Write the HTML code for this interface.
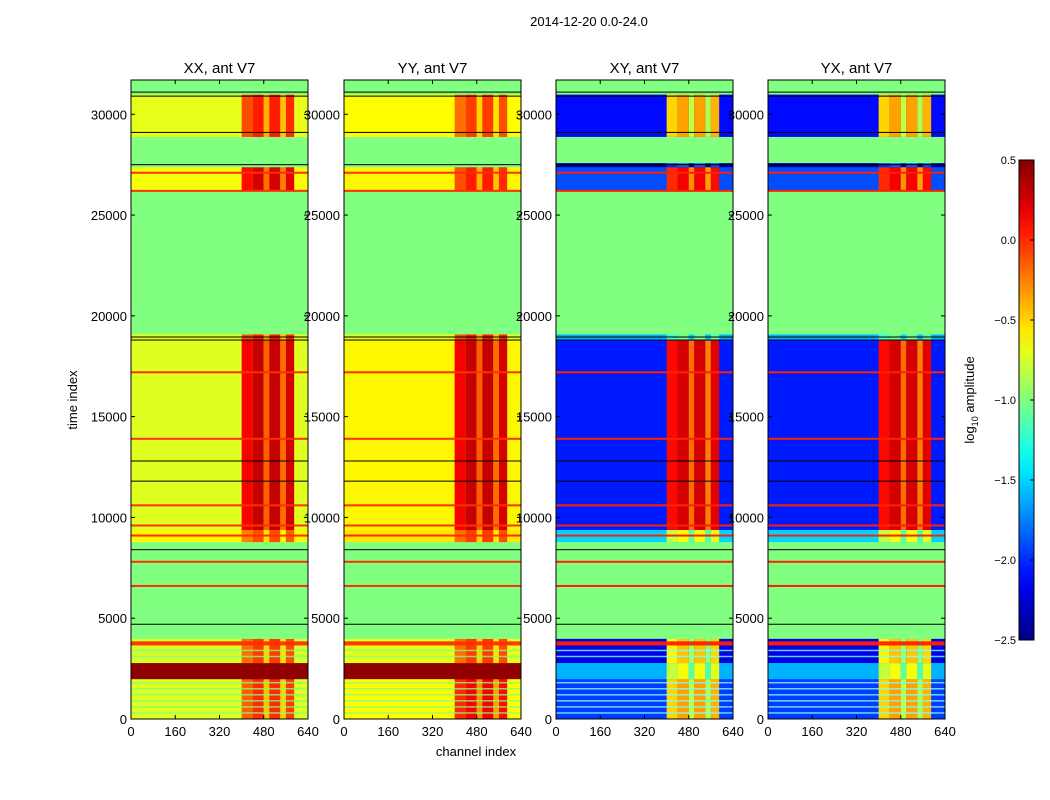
<!DOCTYPE html>
<html><head><meta charset="utf-8">
<style>
body{margin:0;background:#fff;}
svg{display:block;font-family:"Liberation Sans","DejaVu Sans",sans-serif;}
</style></head>
<body>
<svg id="fig" width="1050" height="800" viewBox="0 0 1050 800">
<rect width="1050" height="800" fill="#fff"/>
<text x="589" y="26" text-anchor="middle" font-size="13">2014-12-20 0.0-24.0</text>
<text x="476" y="756" text-anchor="middle" font-size="13">channel index</text>
<text transform="translate(77,400) rotate(-90)" text-anchor="middle" font-size="13">time index</text>
<g id="panels"></g>
<g id="cbar"></g>
</svg>
<script>
// ---- data ----
const panelTitles = ["XX, ant V7","YY, ant V7","XY, ant V7","YX, ant V7"];
const xTicks = [0,160,320,480,640];
const yTicks = [0,5000,10000,15000,20000,25000,30000];
const cbarTicks = [0.5,0.0,-0.5,-1.0,-1.5,-2.0,-2.5];
const bandStart = [0,2000,2800,4000,8800,9400,18800,19100,26200,27400,27600,28900,31000];
const bandEnd   = [2000,2800,4000,8800,9400,18800,19100,26200,27400,27600,28900,31000,31700];
const xxBase = [-0.72,0.45,-0.75,-1.0,-0.6,-0.72,-0.7,-1.0,-0.65,-1.0,-1.0,-0.7,-1.0];
const xxHot  = [-0.15,0.45,-0.2,-1.0,-0.25,0.15,-0.1,-1.0,0.1,-1.0,-1.0,-0.1,-1.0];
const yyBase = [-0.62,0.45,-0.7,-1.0,-0.55,-0.6,-0.7,-1.0,-0.6,-1.0,-1.0,-0.62,-1.0];
const yyHot  = [0.0,0.45,-0.2,-1.0,-0.2,0.15,-0.1,-1.0,-0.1,-1.0,-1.0,-0.2,-1.0];
const xyBase = [-1.95,-1.6,-2.2,-1.0,-1.5,-2.05,-1.6,-1.0,-1.9,-2.4,-1.0,-2.1,-1.0];
const xyHot  = [-0.5,-0.8,-0.6,-1.0,-0.8,0.1,-1.2,-1.0,0.0,-2.0,-1.0,-0.5,-1.0];
const yxBase = [-1.95,-1.6,-2.2,-1.0,-1.5,-2.05,-1.6,-1.0,-1.9,-2.4,-1.0,-2.1,-1.0];
const yxHot  = [-0.5,-0.8,-0.6,-1.0,-0.8,0.1,-1.2,-1.0,0.0,-2.0,-1.0,-0.5,-1.0];
const hotColStart = [400,440,480,500,540,560];
const hotColEnd   = [440,480,500,540,560,590];
const hotColOff   = [0.0,0.15,-0.3,0.15,-0.35,0.1];
const redLines = [3700,3800,6600,7800,9600,9100,10600,13900,17200,26200,27100];
const blackLines = [8400,4700,18800,18950,27500,29100,30900,31100,11800,12800];
const greenLines = [300,600,900,1200,1500,1800,3100,3400];
// ---- scales ----
const panelX = [131,344,556,768], PW=177, PT=80, PB=719, TMAX=31700;
const xs=(c,i)=>panelX[i]+c/640*PW;
const ys=t=>PB-t/TMAX*(PB-PT);
function jet(v){v=Math.max(0,Math.min(1,v));
 const r=Math.max(0,Math.min(1,1.5-Math.abs(4*v-3))),g=Math.max(0,Math.min(1,1.5-Math.abs(4*v-2))),b=Math.max(0,Math.min(1,1.5-Math.abs(4*v-1)));
 return `rgb(${Math.round(r*255)},${Math.round(g*255)},${Math.round(b*255)})`;}
const col=v=>jet((v+2.5)/3);
const NS="http://www.w3.org/2000/svg";
function mk(tag,attrs,parent){const e=document.createElementNS(NS,tag);for(const k in attrs)e.setAttribute(k,attrs[k]);parent.appendChild(e);return e;}
const G=document.getElementById('panels');
const bases=[xxBase,yyBase,xyBase,yxBase], hots=[xxHot,yyHot,xyHot,yxHot];
for(let p=0;p<4;p++){
 const g=mk('g',{},G);
 
 
 for(let b=0;b<bandStart.length;b++){
  const y1=ys(bandEnd[b]),y2=ys(bandStart[b]);
  const r=mk('rect',{x:xs(0,p),y:y1,width:PW,height:y2-y1+0.5,fill:col(bases[p][b])},g);
  
  
  for(let c=0;c<hotColStart.length;c++){
   const x1=xs(hotColStart[c],p),x2=xs(hotColEnd[c],p);
   const v=hots[p][b]+(hots[p][b]>bases[p][b]+0.2?hotColOff[c]:0);
   const h=mk('rect',{x:x1,y:y1,width:x2-x1,height:y2-y1+0.5,fill:col(v)},g);
   
   
  }
 }
 greenLines.forEach(t=>{const l=mk('rect',{x:xs(0,p),y:ys(t)-0.75,width:PW,height:1.5,fill:p<2?'#80ff80':'#80ffff','opacity':0.8},g);
  });
 redLines.forEach(t=>{const l=mk('rect',{x:xs(0,p),y:ys(t)-1,width:PW,height:2,fill:p<2?'#ff3000':'#ff2000'},g);
  });
 blackLines.forEach(t=>{const l=mk('rect',{x:xs(0,p),y:ys(t)-0.5,width:PW,height:1,fill:'#000'},g);
  });
 const fr=mk('rect',{x:panelX[p],y:PT,width:PW,height:PB-PT,fill:'none',stroke:'#000','stroke-width':1},g);
 
 const tt=mk('text',{x:panelX[p]+PW/2,y:73,'text-anchor':'middle','font-size':15},g);tt.textContent=panelTitles[p];
 
 xTicks.forEach(v=>{const x=xs(v,p);
  mk('line',{x1:x,x2:x,y1:PB,y2:PB-4,stroke:'#000'},g);mk('line',{x1:x,x2:x,y1:PT,y2:PT+4,stroke:'#000'},g);
  const t=mk('text',{x:x,y:PB+17,'text-anchor':'middle','font-size':13},g);t.textContent=v;
  });
 yTicks.forEach(v=>{const y=ys(v);
  mk('line',{x1:panelX[p],x2:panelX[p]+4,y1:y,y2:y,stroke:'#000'},g);mk('line',{x1:panelX[p]+PW,x2:panelX[p]+PW-4,y1:y,y2:y,stroke:'#000'},g);
  const t=mk('text',{x:panelX[p]-4,y:y+5,'text-anchor':'end','font-size':13},g);t.textContent=v;
  });
}
// colorbar
const C=document.getElementById('cbar');
const CX=1019,CW=15,CT=160,CB=640;
const defs=mk('defs',{},C);const lg=mk('linearGradient',{id:'jetg',x1:0,y1:1,x2:0,y2:0},defs);
for(let i=0;i<=20;i++)mk('stop',{offset:i/20,'stop-color':jet(i/20)},lg);
const cr=mk('rect',{x:CX,y:CT,width:CW,height:CB-CT,fill:'url(#jetg)',stroke:'#000'},C);

cbarTicks.forEach(v=>{const y=CB-(v+2.5)/3*(CB-CT);
 mk('line',{x1:CX+CW-4,x2:CX+CW,y1:y,y2:y,stroke:'#000'},C);
 const t=mk('text',{x:CX-3,y:y+4,'text-anchor':'end','font-size':11},C);t.textContent=(v<0?'\u2212':'')+Math.abs(v).toFixed(1);
 });
const cl=mk('text',{transform:'translate(974,400) rotate(-90)','text-anchor':'middle','font-size':13},C);
cl.innerHTML='log<tspan font-size="9" dy="4">10</tspan><tspan dy="-4"> amplitude</tspan>';

</script>
</body></html>
